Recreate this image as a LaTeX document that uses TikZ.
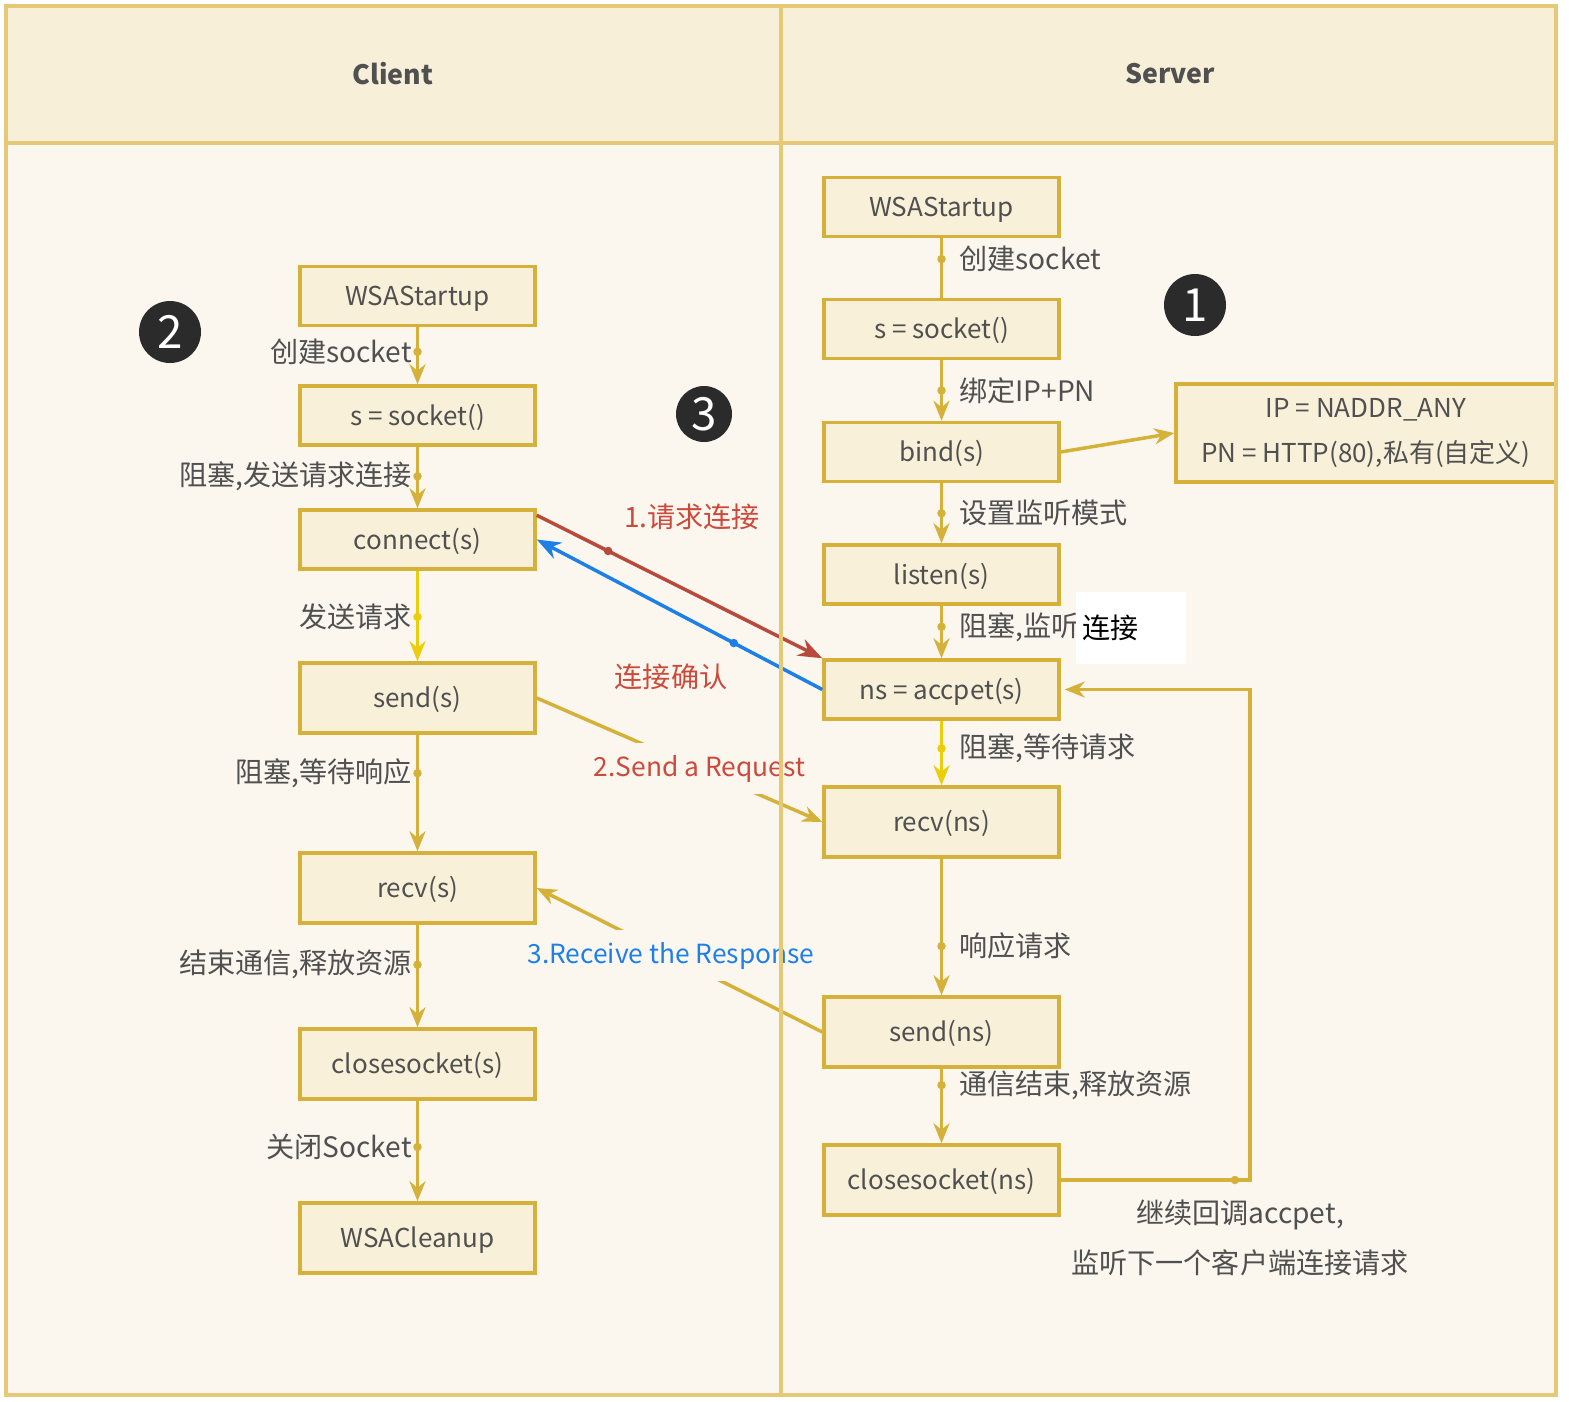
\documentclass[tikz,border=0pt]{standalone}
\usepackage{fontspec}
\setmainfont{Noto Sans CJK SC}
\usetikzlibrary{positioning,arrows.meta,calc}
\definecolor{laneline}{HTML}{E5C977}
\definecolor{headfill}{HTML}{F7EFD8}
\definecolor{bodyfill}{HTML}{FBF7EF}
\definecolor{boxfill}{HTML}{F8F0D8}
\definecolor{gold}{HTML}{D6B13A}
\definecolor{brightgold}{HTML}{EBCD0A}
\definecolor{txt}{HTML}{505050}
\definecolor{reqred}{HTML}{B84A3C}
\definecolor{redtxt}{HTML}{CC4A3C}
\definecolor{ackblue}{HTML}{1E80E6}
\definecolor{badgefill}{HTML}{2B2B2B}

\begin{document}
\begin{tikzpicture}[x=0.1mm,y=-0.1mm,>={Stealth[length=2mm,width=1.6mm]},
  font=\fontsize{8}{10}\selectfont,text=txt,
  box/.style={draw=gold,fill=boxfill,line width=0.35mm,minimum width=23.5mm,minimum height=5.9mm,inner sep=0,
    font=\fontsize{7.4}{9}\selectfont,text height=2.4mm,text depth=0.5mm},
  tallbox/.style={box,minimum height=7mm},
  flow/.style={->,draw=gold,line width=0.35mm},
  edot/.style={circle,fill=#1,inner sep=0,minimum size=0.85mm},
  lbl/.style={inner sep=0,anchor=east,xshift=-0.4mm},
  rlbl/.style={inner sep=0,anchor=west,xshift=1.6mm},
  badge/.style={circle,fill=badgefill,text=white,minimum size=6.2mm,inner sep=0,font=\fontsize{13}{13}\selectfont}]
  \useasboundingbox (0,0) rectangle (1569,1401);
  \fill[bodyfill] (6,6) rectangle (1556,1395);
  \fill[headfill] (6,6) rectangle (1556,143);
  \node[font=\bfseries\fontsize{7.6}{10}\selectfont] (clienthd) at (393,74) {Client};
  \node[font=\bfseries\fontsize{7.6}{10}\selectfont] (serverhd) at (1170,74) {Server};

  % client side
  \node[box] (cstart) at (417.5,296) {WSAStartup};
  \node[box] (csock) at (417.5,415.5) {s = socket()};
  \node[box] (cconn) at (417.5,539.5) {connect(s)};
  \node[tallbox] (csend) at (417.5,698) {send(s)};
  \node[tallbox] (crecv) at (417.5,888) {recv(s)};
  \node[tallbox] (cclose) at (417.5,1064) {closesocket(s)};
  \node[tallbox] (cclean) at (417.5,1238) {WSACleanup};
  \draw[flow] (cstart) -- (csock) node[pos=.43,edot=gold](k1){} node[pos=.43,lbl](l1){创建socket};
  \draw[flow] (csock) -- (cconn) node[pos=.48,edot=gold](k2){} node[pos=.48,lbl](l2){阻塞,发送请求连接};
  \draw[flow,draw=brightgold] (cconn) -- (csend) node[pos=.51,edot=brightgold](k3){} node[pos=.51,lbl](l3){发送请求};
  \draw[flow] (csend) -- (crecv) node[pos=.33,edot=gold](k4){} node[pos=.33,lbl](l4){阻塞,等待响应};
  \draw[flow] (crecv) -- (cclose) node[pos=.39,edot=gold](k5){} node[pos=.39,lbl](l5){结束通信,释放资源};
  \draw[flow] (cclose) -- (cclean) node[pos=.46,edot=gold](k6){} node[pos=.46,lbl](l6){关闭Socket};

  % server side
  \node[box] (sstart) at (941.5,207) {WSAStartup};
  \node[box] (ssock) at (941.5,329) {s = socket()};
  \node[box] (sbind) at (941.5,452) {bind(s)};
  \node[box] (slisten) at (941.5,574.5) {listen(s)};
  \node[box] (saccept) at (941.5,689.5) {ns = accpet(s)};
  \node[tallbox] (srecv) at (941.5,822) {recv(ns)};
  \node[tallbox] (ssend) at (941.5,1032) {send(ns)};
  \node[tallbox] (sclose) at (941.5,1180) {closesocket(ns)};
  \node[box,minimum width=38mm,minimum height=9.8mm,align=center,text height=,text depth=] (ipbox) at (1366,433) {IP = NADDR\_ANY\\[1.3mm]PN = HTTP(80),私有(自定义)};
  \draw[draw=gold,line width=0.35mm] (sstart) -- (ssock) node[pos=.35,edot=gold](m1){} node[pos=.35,rlbl](r1){创建socket};
  \draw[flow] (ssock) -- (sbind) node[pos=.5,edot=gold](m2){} node[pos=.5,rlbl](r2){绑定IP+PN};
  \draw[flow] (sbind.east) -- (ipbox.west);
  \draw[flow] (sbind) -- (slisten) node[pos=.5,edot=gold](m3){} node[pos=.5,rlbl](r3){设置监听模式};
  \draw[flow] (slisten) -- (saccept) node[pos=.4,edot=gold](m4){} node[pos=.4,rlbl](r4){阻塞,监听};
  \node[fill=white,anchor=west,text=black,inner xsep=0.7mm,text width=9.6mm,minimum height=7.2mm] (lnkpatch) at (1075,628) {连接};
  \draw[flow,draw=brightgold] (saccept) -- (srecv) node[pos=.43,edot=brightgold](m5){} node[pos=.43,rlbl](r5){阻塞,等待请求};
  \draw[flow] (srecv) -- (ssend) node[pos=.64,edot=gold](m6){} node[pos=.64,rlbl](r6){响应请求};
  \draw[flow] (ssend) -- (sclose) node[pos=.22,edot=gold](m7){} node[pos=.22,rlbl](r7){通信结束,释放资源};
  \coordinate (loopc) at (1250,1180);
  \draw[flow] (sclose.east) -- node[pos=.92,edot=gold](m8){} (loopc) |- ([xshift=0.4mm]saccept.east);
  \node[align=center] (looptxt) at (1240,1238) {继续回调accpet,\\[1.5mm]监听下一个客户端连接请求};

  % between the two
  \node[badge] (n1) at (1195,305) {1};
  \node[badge] (n2) at (170,332) {2};
  \node[badge,minimum size=5.6mm] (n3) at (704,414) {3};
  \node[text=redtxt] (t1) at (692,517) {1.请求连接};
  \node[text=redtxt] (t2) at (671,677) {连接确认};
  \draw[->,reqred,line width=0.35mm,>={Stealth[length=2.4mm,width=1.8mm]}] ([yshift=-0.7mm]cconn.north east) -- (saccept.north west) node[pos=.25,edot=reqred](q1){};
  \draw[->,ackblue,line width=0.35mm,>={Stealth[length=2.4mm,width=1.8mm]}] (saccept.west) -- (cconn.east) node[pos=.31,edot=ackblue](q2){};
  \draw[flow] (csend.east) -- (srecv.west) node[pos=.57,fill=bodyfill,text=redtxt,inner xsep=0,inner ysep=1.2mm,font=\fontsize{7.5}{9}\selectfont](t3){2.Send a Request};
  \draw[flow] (ssend.west) -- (crecv.east) node[pos=.53,fill=bodyfill,text=ackblue,inner xsep=0,inner ysep=1.2mm,font=\fontsize{7.5}{9}\selectfont](t4){3.Receive the Response};

  \draw[laneline,line width=0.35mm] (6,6) rectangle (1556,1395) (6,143) -- (1556,143) (781,6) -- (781,1395);
\end{tikzpicture}
\end{document}
